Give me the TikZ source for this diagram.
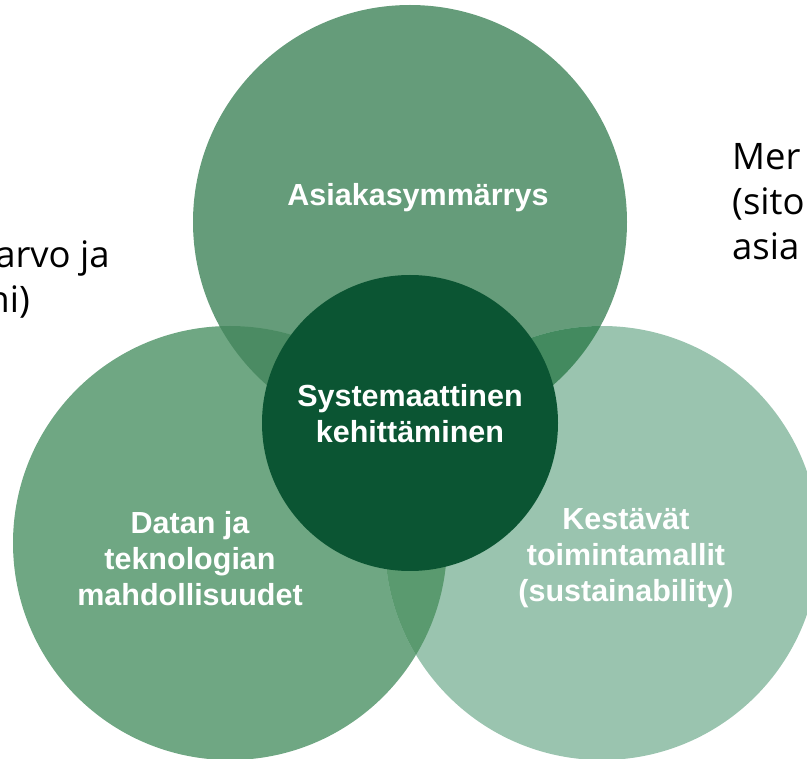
\documentclass[tikz,border=0pt]{standalone}
\usepackage{fontspec}
\setmainfont{Liberation Sans}
\newfontfamily\sidefont{Open Sans}
\definecolor{topgreen}{HTML}{659C7A}
\definecolor{leftgreen}{HTML}{6FA783}
\definecolor{rightgreen}{HTML}{9AC4AF}
\definecolor{coregreen}{HTML}{0B5533}
\definecolor{lapTL}{HTML}{4B8B63}
\definecolor{lapTR}{HTML}{438A5F}
\definecolor{lapLR}{HTML}{5A9A6F}
\tikzset{
  bubble/.style={circle,inner sep=0pt,minimum size=434pt},
  bubbletext/.style={text=white,align=center,font=\bfseries\fontsize{30.5}{36}\selectfont},
  sidetext/.style={inner sep=0pt,font=\sidefont\fontsize{36.5}{44}\selectfont}
}

\begin{document}
\begin{tikzpicture}[x=1pt,y=-1pt]
\useasboundingbox (0,0) rectangle (807,759);
\clip (0,0) rectangle (807,759);
\node[bubble,fill=topgreen] (top) at (410,222) {}; %top circle
\node[bubble,fill=leftgreen] (left) at (230,543) {}; %left circle
\node[bubble,fill=rightgreen] (right) at (602,543) {}; %right circle
\begin{scope}
\clip (top.center) circle (217pt);
\fill[lapTL] (left.center) circle (217pt); %top-left overlap
\fill[lapTR] (right.center) circle (217pt); %top-right overlap
\end{scope}
\begin{scope}
\clip (left.center) circle (217pt);
\fill[lapLR] (right.center) circle (217pt); %left-right overlap
\end{scope}
\node[circle,inner sep=0pt,minimum size=296pt,fill=coregreen] (core) at (410,423) {}; %centre circle
\node[bubbletext,anchor=base] (toplabel) at (418,206) {Asiakasymmärrys};
\node[bubbletext] (corelabel) at (410,414) {Systemaattinen\\kehittäminen};
\node[bubbletext] (leftlabel) at (190,559) {Datan ja\\teknologian\\mahdollisuudet};
\node[bubbletext] (rightlabel) at (626,558) {Kestävät\\toimintamallit\\(sustainability)};
%cut off texts at the sides
\node[sidetext,anchor=base east] (lefttextA) at (110,268) {arvo ja};
\node[sidetext,anchor=base east] (lefttextB) at (30,313) {ni)};
\node[sidetext,anchor=base west] (righttextA) at (732,170) {Mer};
\node[sidetext,anchor=base west] (righttextB) at (732,215) {(sito};
\node[sidetext,anchor=base west] (righttextC) at (732,260) {asia};
\end{tikzpicture}
\end{document}
